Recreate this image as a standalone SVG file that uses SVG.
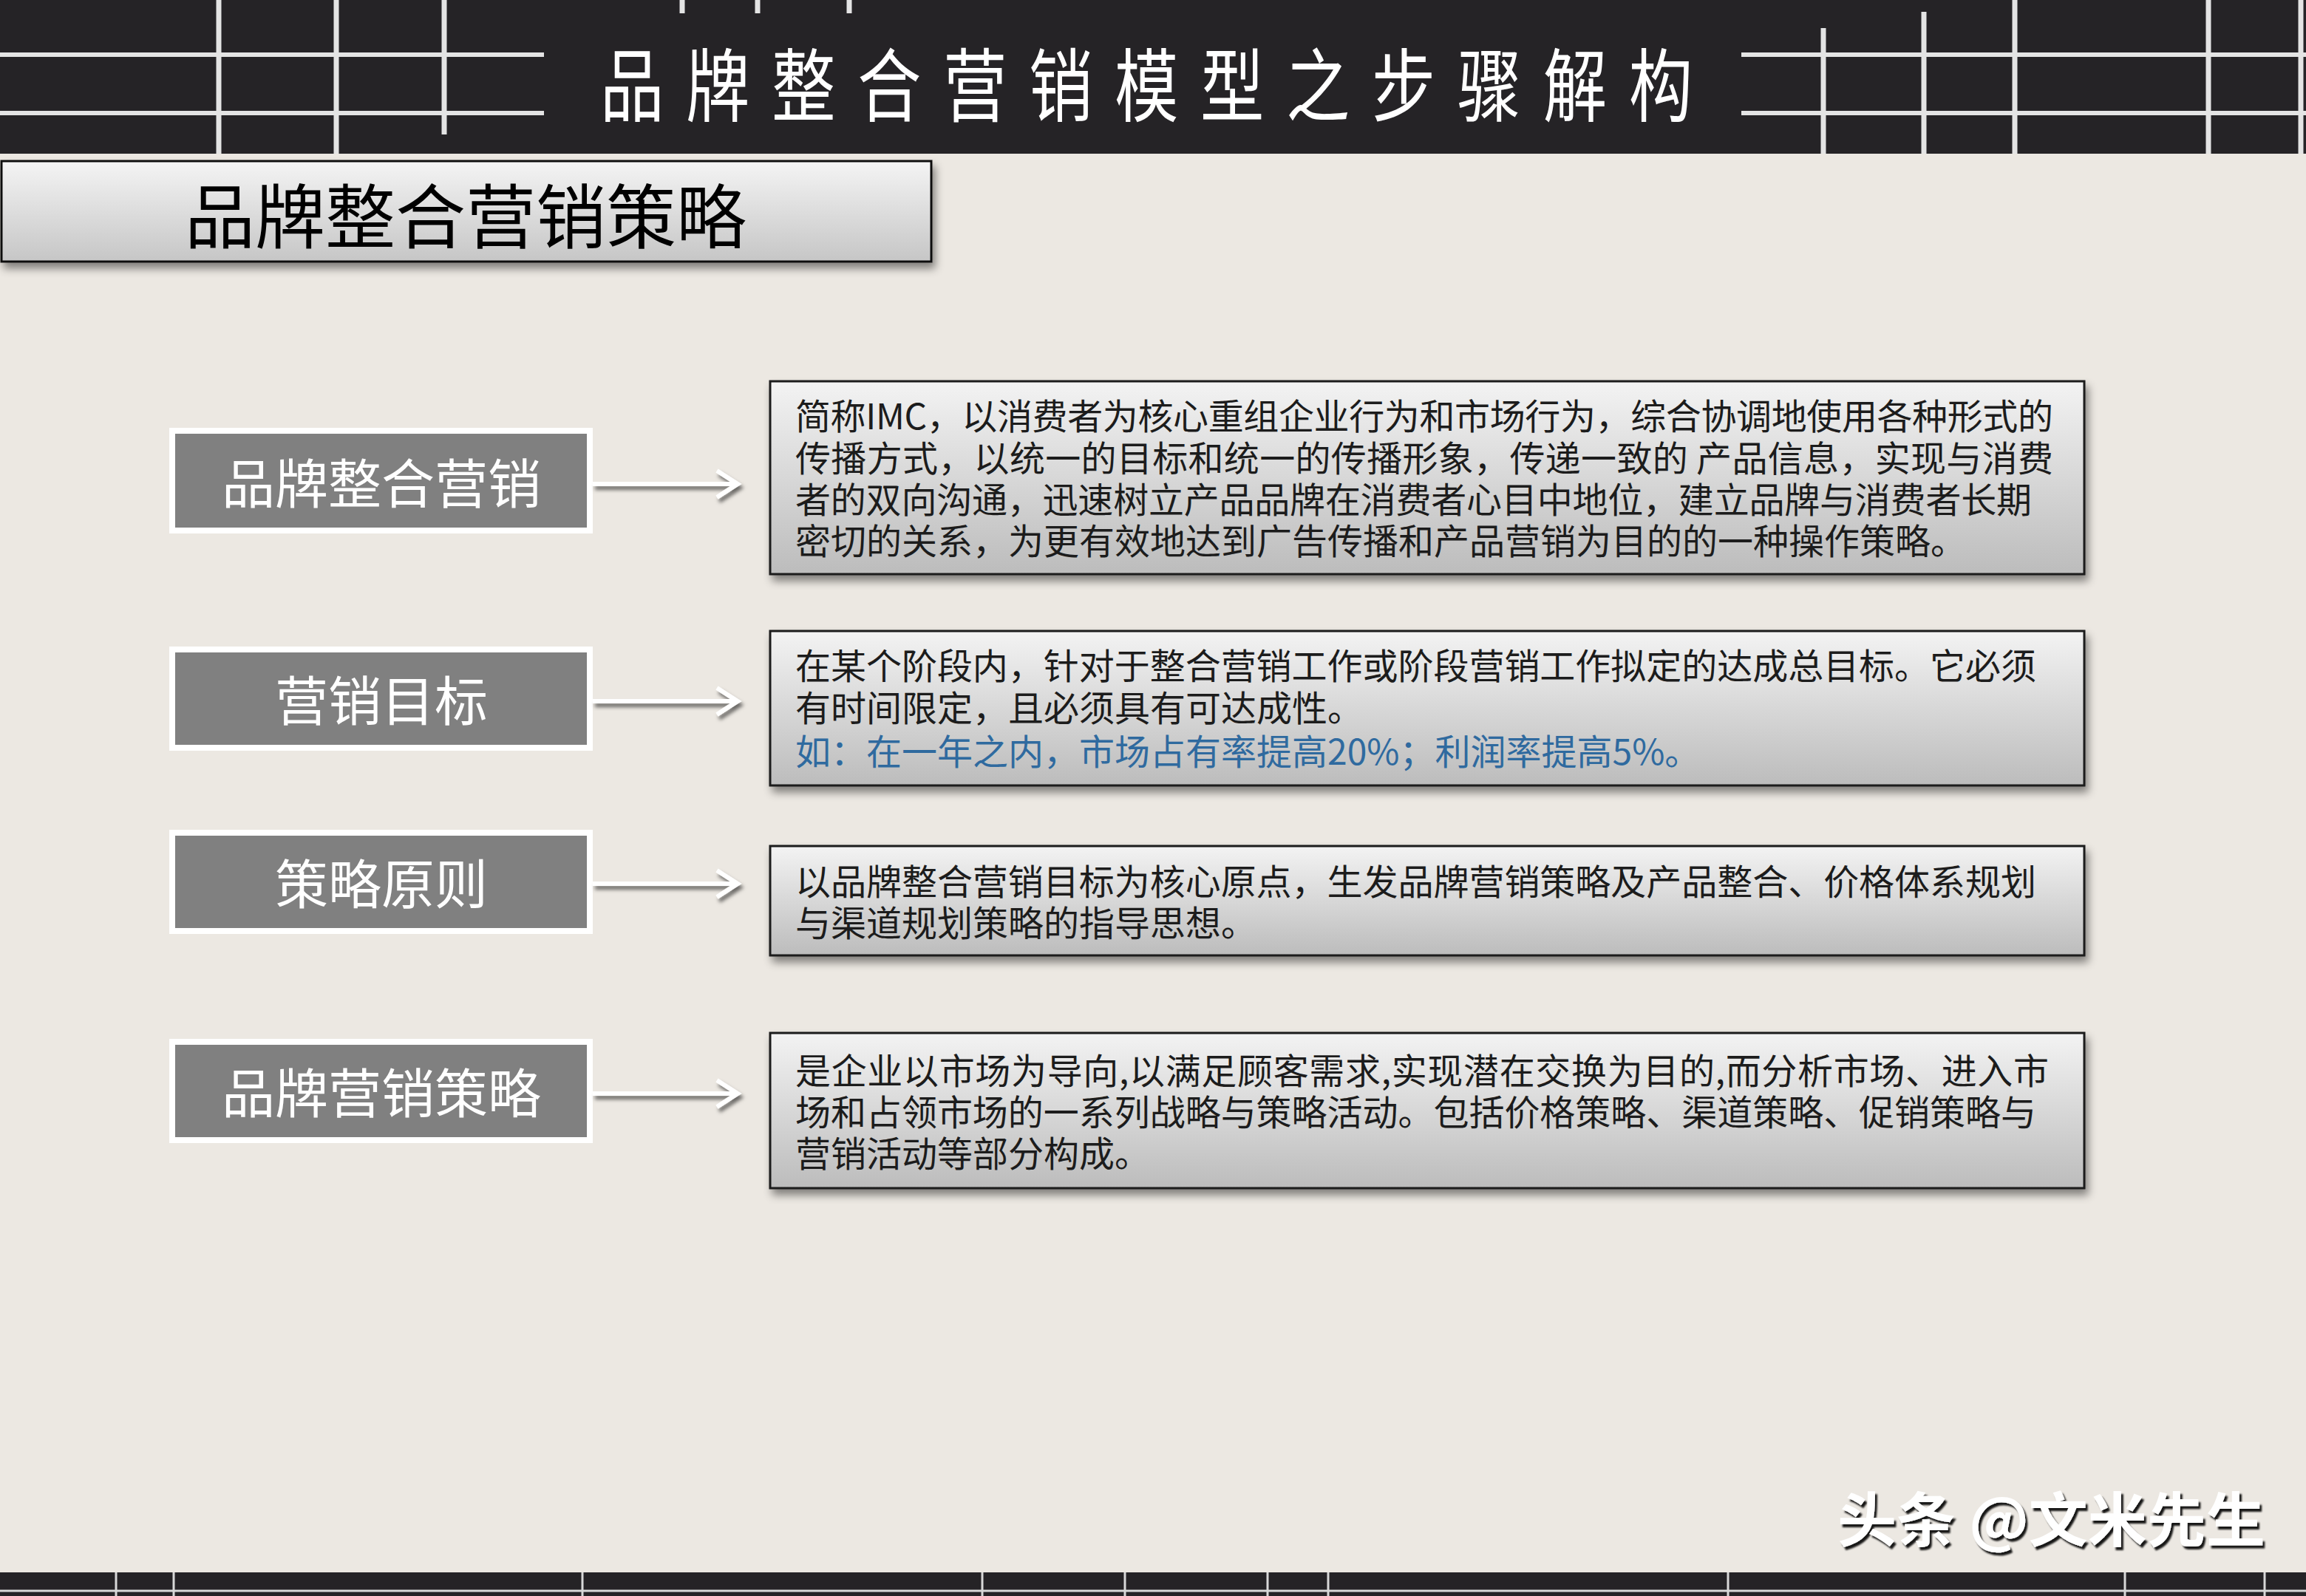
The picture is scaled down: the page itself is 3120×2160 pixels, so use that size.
<svg xmlns="http://www.w3.org/2000/svg" width="3120" height="2160" viewBox="0 0 3120 2160">
<defs>
<linearGradient id="gBox" x1="0" y1="0" x2="0" y2="1">
<stop offset="0" stop-color="#f3f3f3"/>
<stop offset="1" stop-color="#bcbcbc"/>
</linearGradient>
<linearGradient id="gTitle" x1="0" y1="0" x2="0" y2="1">
<stop offset="0" stop-color="#f4f4f4"/>
<stop offset="1" stop-color="#c6c6c6"/>
</linearGradient>
<filter id="shadow" x="-5%" y="-20%" width="112%" height="150%">
<feDropShadow dx="4" dy="8" stdDeviation="6" flood-color="#000" flood-opacity="0.45"/>
</filter>
<filter id="arrowShadow" x="-10%" y="-50%" width="130%" height="250%">
<feDropShadow dx="3" dy="5" stdDeviation="2.5" flood-color="#000" flood-opacity="0.55"/>
</filter>
<filter id="wmShadow" x="-5%" y="-20%" width="115%" height="150%">
<feDropShadow dx="3" dy="4" stdDeviation="1" flood-color="#000" flood-opacity="0.9"/>
</filter>
</defs>
<style>
.hline{stroke:#e4e4e4;stroke-width:6;fill:none}
.vline{stroke:#e4e4e4;stroke-width:7;fill:none}
.fline{stroke:#d8d8d8;stroke-width:3;fill:none}
.cjk{font-family:"Noto Sans CJK SC","Noto Sans",sans-serif}
.nodeOuter{fill:#ffffff}
.nodeInner{fill:#808080}
.nodeText{font-family:"Noto Sans CJK SC",sans-serif;font-size:72px;fill:#ffffff;text-anchor:middle}
.box{fill:url(#gBox);stroke:#1a1a1a;stroke-width:3;filter:url(#shadow)}
.boxText{font-family:"Noto Sans CJK SC",sans-serif;font-size:48px;fill:#1c1c1c}
.blue{fill:#2f6a9f}
.arrow{stroke:#ffffff;stroke-width:6;fill:none;stroke-linecap:butt;stroke-linejoin:miter;filter:url(#arrowShadow)}
</style>

<!-- background -->
<rect x="0" y="0" width="3120" height="2160" fill="#ece8e2"/>

<!-- header band -->
<g id="header">
<rect x="0" y="0" width="3120" height="208" fill="#252326"/>
<line class="hline" x1="0" y1="74" x2="736" y2="74"/>
<line class="hline" x1="0" y1="153" x2="736" y2="153"/>
<line class="vline" x1="296" y1="0" x2="296" y2="208"/>
<line class="vline" x1="455" y1="0" x2="455" y2="208"/>
<line class="vline" x1="601" y1="0" x2="601" y2="182"/>
<line class="vline" x1="923" y1="0" x2="923" y2="18"/>
<line class="vline" x1="1025" y1="0" x2="1025" y2="18"/>
<line class="vline" x1="1149" y1="0" x2="1149" y2="18"/>
<line class="hline" x1="2356" y1="74" x2="3120" y2="74"/>
<line class="hline" x1="2356" y1="153" x2="3120" y2="153"/>
<line class="vline" x1="2467" y1="38" x2="2467" y2="208"/>
<line class="vline" x1="2603" y1="16" x2="2603" y2="208"/>
<line class="vline" x1="2726" y1="0" x2="2726" y2="208"/>
<line class="vline" x1="2988" y1="0" x2="2988" y2="208"/>
<line class="vline" x1="3113" y1="0" x2="3113" y2="208"/>
<text class="cjk" transform="translate(812,156) scale(0.8,1)" font-size="108" letter-spacing="37" fill="#ffffff">品牌整合营销模型之步骤解构</text>
</g>

<!-- footer band -->
<g id="footer">
<rect x="0" y="2128" width="3120" height="32" fill="#252326"/>
<line class="fline" x1="0" y1="2153" x2="3120" y2="2153"/>
<line class="fline" x1="157" y1="2128" x2="157" y2="2160"/>
<line class="fline" x1="235" y1="2128" x2="235" y2="2160"/>
<line class="fline" x1="788" y1="2128" x2="788" y2="2160"/>
<line class="fline" x1="1329" y1="2128" x2="1329" y2="2160"/>
<line class="fline" x1="1522" y1="2128" x2="1522" y2="2160"/>
<line class="fline" x1="1715" y1="2128" x2="1715" y2="2160"/>
<line class="fline" x1="1797" y1="2128" x2="1797" y2="2160"/>
<line class="fline" x1="2338" y1="2128" x2="2338" y2="2160"/>
<line class="fline" x1="2875" y1="2128" x2="2875" y2="2160"/>
<line class="fline" x1="3064" y1="2128" x2="3064" y2="2160"/>
</g>

<!-- subtitle box -->
<g id="subtitle">
<rect x="2" y="218" width="1258" height="136" fill="url(#gTitle)" stroke="#111" stroke-width="3" filter="url(#shadow)"/>
<text class="cjk" x="630" y="329" font-size="95" text-anchor="middle" fill="#000000">品牌整合营销策略</text>
</g>

<!-- left nodes -->
<g id="node1">
<rect class="nodeOuter" x="229" y="579" width="573" height="143"/>
<rect class="nodeInner" x="237" y="587" width="557" height="127"/>
<text class="nodeText" x="516" y="681">品牌整合营销</text>
</g>
<g id="node2">
<rect class="nodeOuter" x="229" y="875" width="573" height="141"/>
<rect class="nodeInner" x="237" y="883" width="557" height="125"/>
<text class="nodeText" x="516" y="975">营销目标</text>
</g>
<g id="node3">
<rect class="nodeOuter" x="229" y="1123" width="573" height="141"/>
<rect class="nodeInner" x="237" y="1131" width="557" height="125"/>
<text class="nodeText" x="516" y="1223">策略原则</text>
</g>
<g id="node4">
<rect class="nodeOuter" x="229" y="1406" width="573" height="141"/>
<rect class="nodeInner" x="237" y="1414" width="557" height="125"/>
<text class="nodeText" x="516" y="1506">品牌营销策略</text>
</g>

<!-- right description boxes -->
<g id="desc1">
<rect class="box" x="1042" y="516" width="1778" height="261"/>
<text class="boxText" x="1076" y="581" textLength="1702" lengthAdjust="spacing">简称IMC，以消费者为核心重组企业行为和市场行为，综合协调地使用各种形式的</text>
<text class="boxText" x="1076" y="638" textLength="1702" lengthAdjust="spacing">传播方式，以统一的目标和统一的传播形象，传递一致的 产品信息，实现与消费</text>
<text class="boxText" x="1076" y="694" textLength="1673" lengthAdjust="spacing">者的双向沟通，迅速树立产品品牌在消费者心目中地位，建立品牌与消费者长期</text>
<text class="boxText" x="1076" y="750">密切的关系，为更有效地达到广告传播和产品营销为目的的一种操作策略。</text>
</g>
<g id="desc2">
<rect class="box" x="1042" y="854" width="1778" height="209"/>
<text class="boxText" x="1076" y="919" textLength="1679" lengthAdjust="spacing">在某个阶段内，针对于整合营销工作或阶段营销工作拟定的达成总目标。它必须</text>
<text class="boxText" x="1076" y="976">有时间限定，且必须具有可达成性。</text>
<text class="boxText blue" x="1076" y="1035">如：在一年之内，市场占有率提高20%；利润率提高5%。</text>
</g>
<g id="desc3">
<rect class="box" x="1042" y="1145" width="1778" height="148"/>
<text class="boxText" x="1076" y="1211" textLength="1679" lengthAdjust="spacing">以品牌整合营销目标为核心原点，生发品牌营销策略及产品整合、价格体系规划</text>
<text class="boxText" x="1076" y="1267">与渠道规划策略的指导思想。</text>
</g>
<g id="desc4">
<rect class="box" x="1042" y="1398" width="1778" height="210"/>
<text class="boxText" x="1076" y="1467" textLength="1696" lengthAdjust="spacing">是企业以市场为导向,以满足顾客需求,实现潜在交换为目的,而分析市场、进入市</text>
<text class="boxText" x="1076" y="1523" textLength="1679" lengthAdjust="spacing">场和占领市场的一系列战略与策略活动。包括价格策略、渠道策略、促销策略与</text>
<text class="boxText" x="1076" y="1579">营销活动等部分构成。</text>
</g>

<!-- connectors -->
<g id="connectors">
<path class="arrow" d="M802 655 H996 M970 637 L998 655 L970 673"/>
<path class="arrow" d="M802 949 H996 M970 931 L998 949 L970 967"/>
<path class="arrow" d="M802 1196 H996 M970 1178 L998 1196 L970 1214"/>
<path class="arrow" d="M802 1480 H996 M970 1462 L998 1480 L970 1498"/>
</g>

<!-- watermark -->
<text class="cjk" x="2486" y="2086" font-size="80" font-weight="bold" fill="#ffffff" filter="url(#wmShadow)">头条 @文米先生</text>
</svg>
